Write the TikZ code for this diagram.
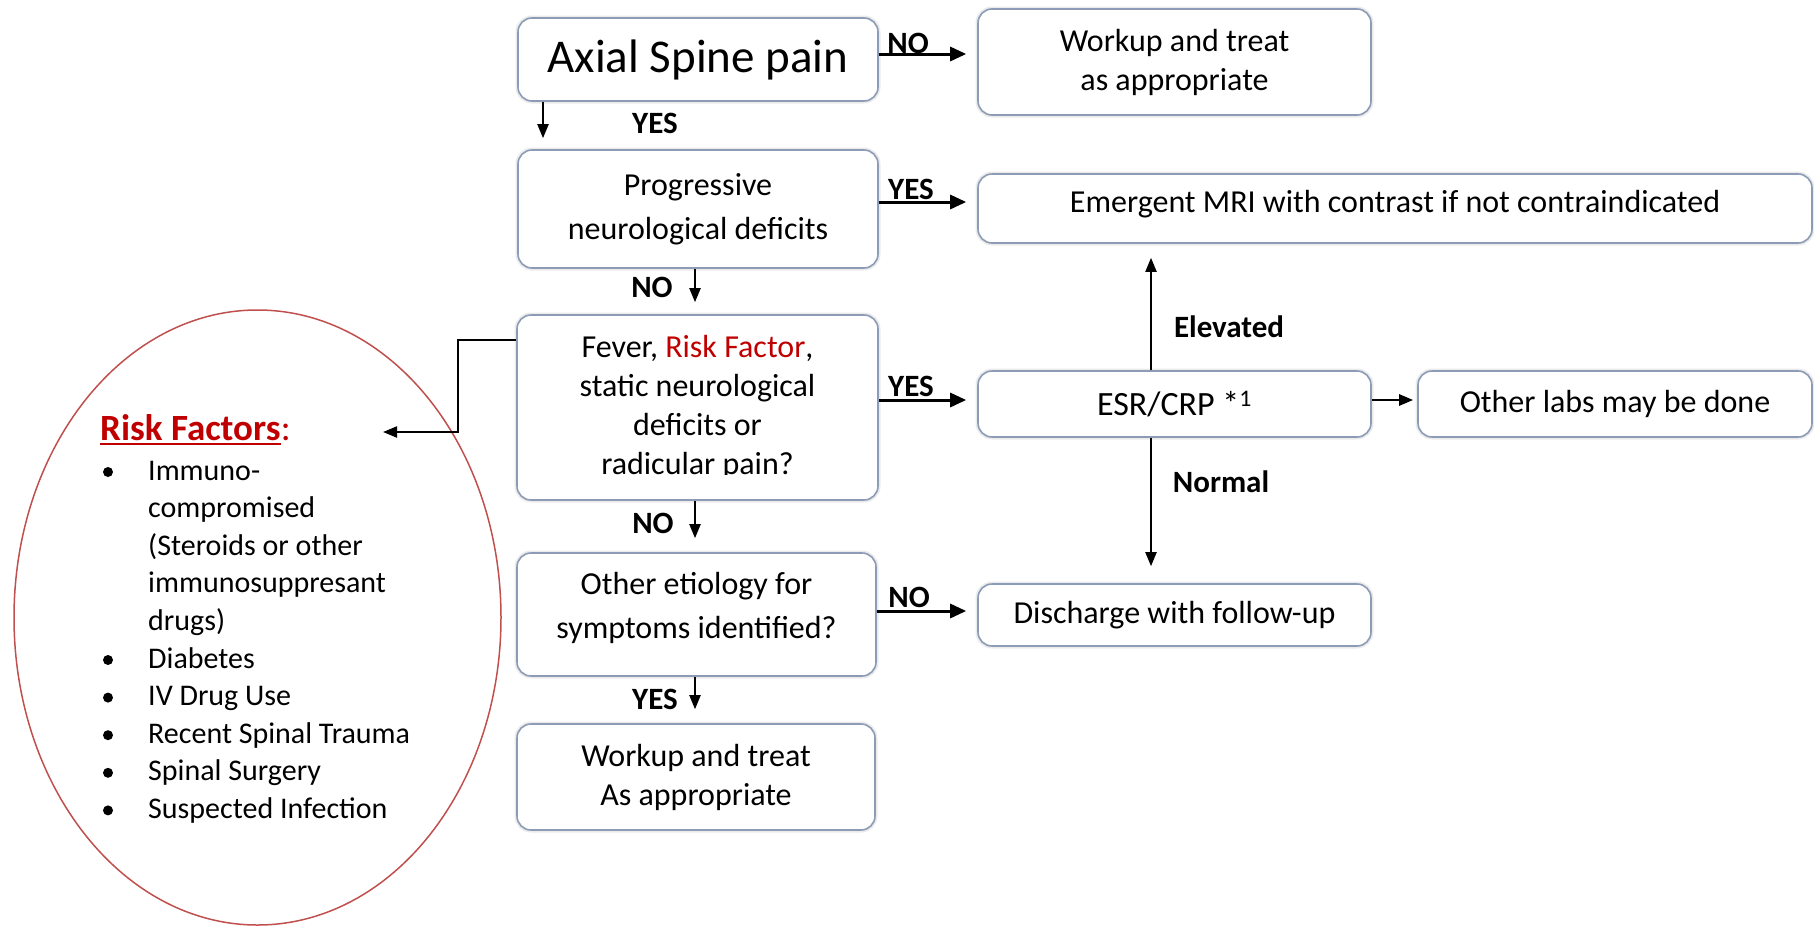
\documentclass[tikz,border=0pt]{standalone}
\usepackage{fontspec}
\setmainfont{Carlito}
\usetikzlibrary{arrows.meta,shapes.geometric}
\definecolor{boxc}{RGB}{140,156,182}
\definecolor{rfred}{RGB}{192,0,0}
\definecolor{ellc}{RGB}{192,80,77}
\begin{document}
\begin{tikzpicture}[x=1pt,y=-1pt,
  box/.style={draw=boxc, line width=1.6pt, rounded corners=14pt, fill=white, align=center, inner sep=0pt,
    preaction={draw=black!8, line width=5pt}},
  txt/.style={font=\fontsize{32}{39}\selectfont},
  txtw/.style={font=\fontsize{32}{44}\selectfont},
  harr/.style={line width=3pt, -{Triangle[length=16pt,width=14pt]}},
  varr/.style={line width=2pt, -{Triangle[length=14pt,width=11pt]}},
  lab/.style={font=\fontsize{31}{36}\selectfont\bfseries, inner sep=0pt},
  item/.style={font=\fontsize{30}{36}\selectfont, anchor=base west, inner sep=0pt},
]
\useasboundingbox (0,0) rectangle (1814,926);

% risk factor ellipse
\node[draw=ellc, line width=1.5pt, ellipse, minimum width=487pt, minimum height=615pt, inner sep=0pt] (rf) at (257.5,617.5) {};

% boxes
\node[box, minimum width=360pt, minimum height=83pt, font=\fontsize{47}{56}\selectfont] (axial) at (698,59.5) {Axial Spine pain};
\node[box, txt, minimum width=393pt, minimum height=106pt] (wk1) at (1174.5,62) {Workup and treat\\as appropriate};
\node[box, txtw, minimum width=360pt, minimum height=118pt] (prog) at (698,209) {Progressive\\neurological deficits};
\node[box, txt, minimum width=834pt, minimum height=69pt, text depth=14pt] (mri) at (1395,208.5) {Emergent MRI with contrast if not contraindicated};
\node[box, minimum width=361pt, minimum height=185pt] (fever) at (697.5,407.5) {};
\begin{scope}
\clip (fever.north west) rectangle ([yshift=26pt]fever.south east);
\node[txt, align=center, inner sep=0pt] (ftext) at (697.5,407.5) {Fever, \textcolor{rfred}{Risk Factor},\\static neurological\\deficits or\\radicular pain?};
\end{scope}
\node[box, minimum width=393pt, minimum height=66pt, font=\fontsize{34}{40}\selectfont] (esr) at (1174.5,404) {ESR/CRP *\textsuperscript{1}};
\node[box, txt, minimum width=394pt, minimum height=66pt] (labs) at (1615,404) {Other labs may be done};
\node[box, txtw, minimum width=359pt, minimum height=123pt, text depth=18pt] (other) at (696.5,614.5) {Other etiology for\\symptoms identified?};
\node[box, txt, minimum width=393pt, minimum height=62pt] (disch) at (1174.5,615) {Discharge with follow-up};
\node[box, txt, minimum width=358pt, minimum height=106pt] (wk2) at (696,777) {Workup and treat\\As appropriate};

% horizontal arrows
\draw[harr, shorten >=11pt] (axial.east |- 0,54) -- (wk1.west |- 0,54);
\draw[harr, shorten >=11pt] (prog.east |- 0,202) -- (mri.west |- 0,202);
\draw[harr, shorten >=11pt] (fever.east |- 0,400) -- (esr.west |- 0,400);
\draw[harr, shorten >=11pt] (other.east |- 0,611) -- (disch.west |- 0,611);
\draw[varr, line width=2.5pt, shorten >=4pt] (esr.east |- 0,400) -- (labs.west |- 0,400);

% vertical arrows
\draw[varr, shorten >=11pt] (axial.south -| 543,0) -- (prog.north -| 543,0);
\draw[varr, shorten >=12pt] (prog.south -| 695,0) -- (fever.north -| 695,0);
\draw[varr, shorten >=14pt] (fever.south -| 695,0) -- (other.north -| 695,0);
\draw[varr, shorten >=14pt] (other.south -| 695,0) -- (wk2.north -| 695,0);
\draw[varr, shorten >=14pt] (esr.north -| 1151,0) -- (mri.south -| 1151,0);
\draw[varr, shorten >=17pt] (esr.south -| 1151,0) -- (disch.north -| 1151,0);

% to risk factors
\coordinate (rftip) at (383,432);
\draw[varr, line width=2.2pt] (fever.west |- 0,340) -| (rftip -| 458,0) -- (rftip);

% labels
\node[lab] (l1) at (908,43) {NO};
\node[lab] (l2) at (655,123) {YES};
\node[lab] (l3) at (911,189) {YES};
\node[lab] (l4) at (652,287) {NO};
\node[lab] (l5) at (911,386) {YES};
\node[lab] (l6) at (653,523) {NO};
\node[lab] (l7) at (909,597) {NO};
\node[lab] (l8) at (655,699) {YES};
\node[lab] (l9) at (1229,327) {Elevated};
\node[lab] (l10) at (1221,482) {Normal};

% risk factor list
\node[font=\fontsize{37}{44}\selectfont\bfseries, text=rfred, anchor=base west, inner sep=0pt] (rfh) at (100,440) {Risk Factors};
\node[font=\fontsize{37}{44}\selectfont, text=rfred, anchor=base west, inner sep=0pt] (rfc) at (rfh.base east) {:};
\draw[rfred, line width=2.6pt] ([yshift=-4pt]rfh.base west) -- ([yshift=-4pt]rfh.base east);

\node[item] (i1) at (148,480) {Immuno-};
\node[item] (i2) at (148,517.6) {compromised};
\node[item] (i3) at (148,555.2) {(Steroids or other};
\node[item] (i4) at (148,592.8) {immunosuppresant};
\node[item] (i5) at (148,630.4) {drugs)};
\node[item] (i6) at (148,668) {Diabetes};
\node[item] (i7) at (148,705.6) {IV Drug Use};
\node[item] (i8) at (148,743.2) {Recent Spinal Trauma};
\node[item] (i9) at (148,780.8) {Spinal Surgery};
\node[item] (i10) at (148,818.4) {Suspected Infection};
\foreach \n in {i1,i6,i7,i8,i9,i10}
  \fill ([yshift=8pt]\n.base west) ++(-40,0) circle (5pt);
\end{tikzpicture}
\end{document}
